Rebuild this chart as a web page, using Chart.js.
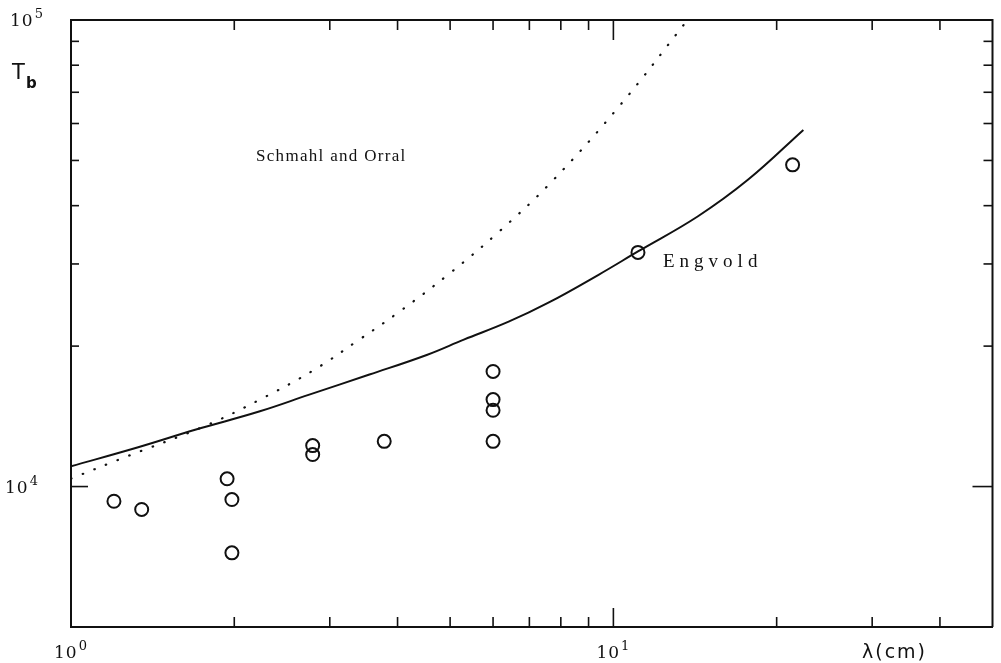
<!DOCTYPE html>
<html>
<head>
<meta charset="utf-8">
<script src="https://cdn.jsdelivr.net/npm/chart.js@4.4.1/dist/chart.umd.min.js"></script>
<style>
  html, body { margin: 0; padding: 0; background: #fff; }
  #wrap { width: 1001px; height: 663px; }
</style>
</head>
<body>
<div id="wrap"><canvas id="grafico" width="1001" height="663"></canvas></div>
<script>
// observed brightness temperatures
const obsLambda = [1.20, 1.35, 1.94, 1.98, 1.98, 2.79, 2.79, 3.78, 6.0, 6.0, 6.0, 6.0, 11.1, 21.4];
const obsTb = [9300, 8930, 10390, 9380, 7210, 12240, 11710, 12500, 17650, 15360, 14570, 12500, 31760, 48930];

// Engvold model (solid)
const engvoldLambda = [1.0, 1.33, 1.70, 2.23, 2.75, 3.55, 4.54, 5.30, 6.41, 7.59, 9.39, 11.1, 14.3, 17.7, 22.4];
const engvoldTb = [11050, 12140, 13250, 14500, 15740, 17380, 19170, 20650, 22560, 24780, 28440, 31910, 37920, 45440, 58130];

// Schmahl and Orral model (dotted)
const schmahlLambda = [1.0, 1.27, 1.76, 2.23, 2.81, 3.40, 4.03, 4.98, 6.15, 7.69, 10.3, 13.7, 14.3];
const schmahlTb = [10400, 11610, 13460, 15360, 17800, 20650, 23700, 28580, 35160, 44990, 65770, 100000, 106600];

// axis ranges and ticks
const xMin = 1, xMax = 50;
const yMin = 5000, yMax = 100000;
const xMajorTicks = [1, 10];
const xMinorTicks = [2, 3, 4, 5, 6, 7, 8, 9, 20, 30, 40];
const yMajorTicks = [10000];
const yMinorTicks = [20000, 30000, 40000, 50000, 60000, 70000, 80000, 90000];

const toPoints = (xs, ys) => xs.map((v, i) => ({ x: v, y: ys[i] }));

// desenha "10" com expoente
function drawPow(ctx, exp, cx, cy) {
    ctx.font = '17px "DejaVu Serif"';
    ctx.letterSpacing = '1px';
    const w1 = ctx.measureText('10').width;
    ctx.font = '13px "DejaVu Serif"';
    const w2 = ctx.measureText(exp).width;
    const left = cx - (w1 + w2 + 1) / 2;
    ctx.font = '17px "DejaVu Serif"';
    ctx.fillText('10', left, cy);
    ctx.font = '13px "DejaVu Serif"';
    ctx.fillText(exp, left + w1 + 1, cy - 8);
    ctx.letterSpacing = '0px';
}

const moldura = {
    id: 'moldura',
    afterDraw(chart) {
        const { ctx, chartArea: a, scales: { x, y } } = chart;
        ctx.save();
        ctx.strokeStyle = '#111';
        ctx.fillStyle = '#111';
        ctx.lineWidth = 2;
        ctx.beginPath();
        ctx.moveTo(a.left, a.top);
        ctx.lineTo(a.right, a.top);
        ctx.lineTo(a.right, a.bottom);
        ctx.stroke();

        const seg = (x1, y1, x2, y2) => {
            ctx.beginPath();
            ctx.moveTo(x1, y1);
            ctx.lineTo(x2, y2);
            ctx.stroke();
        };
        ctx.lineWidth = 1.6;
        xMinorTicks.forEach(v => {
            const px = x.getPixelForValue(v);
            seg(px, a.bottom, px, a.bottom - 10);
            seg(px, a.top, px, a.top + 10);
        });
        xMajorTicks.forEach(v => {
            const px = x.getPixelForValue(v);
            seg(px, a.bottom, px, a.bottom - 19);
            seg(px, a.top, px, a.top + 20);
        });
        yMinorTicks.forEach(v => {
            const py = y.getPixelForValue(v);
            seg(a.left, py, a.left + 8, py);
            seg(a.right, py, a.right - 9, py);
        });
        yMajorTicks.forEach(v => {
            const py = y.getPixelForValue(v);
            seg(a.left, py, a.left + 17, py);
            seg(a.right, py, a.right - 20, py);
        });

        // rótulos dos eixos
        ctx.textBaseline = 'alphabetic';
        ctx.textAlign = 'left';
        drawPow(ctx, '0', x.getPixelForValue(1), 658);
        drawPow(ctx, '1', x.getPixelForValue(10), 658);
        drawPow(ctx, '4', 22, y.getPixelForValue(10000) + 6);
        drawPow(ctx, '5', 27, y.getPixelForValue(100000) + 6);

        ctx.font = '19px "DejaVu Sans"';
        ctx.letterSpacing = '2px';
        ctx.fillText('λ(cm)', 862, 658);
        ctx.letterSpacing = '0px';
        ctx.font = '21px "DejaVu Sans"';
        ctx.fillText('T', 12, 79);
        ctx.font = 'bold 15px "DejaVu Sans"';
        ctx.fillText('b', 26, 88);

        // anotações
        ctx.font = '17px "Liberation Serif"';
        ctx.letterSpacing = '1.3px';
        ctx.fillText('Schmahl and Orral', 256, 161);
        ctx.font = '19px "Liberation Serif"';
        ctx.letterSpacing = '5px';
        ctx.fillText('Engvold', 663, 267);
        ctx.restore();
    }
};

const ctx = document.getElementById('grafico').getContext('2d');
new Chart(ctx, {
    type: 'scatter',
    data: {
        datasets: [
            {
                label: 'Observations',
                data: toPoints(obsLambda, obsTb),
                pointStyle: 'circle',
                pointRadius: 6.5,
                pointBorderWidth: 2,
                pointBorderColor: '#111',
                pointBackgroundColor: 'rgba(0,0,0,0)',
                showLine: false
            },
            {
                label: 'Engvold',
                data: toPoints(engvoldLambda, engvoldTb),
                showLine: true,
                borderColor: '#111',
                borderWidth: 2,
                pointRadius: 0,
                tension: 0.4
            },
            {
                label: 'Schmahl and Orral',
                data: toPoints(schmahlLambda, schmahlTb),
                showLine: true,
                borderColor: '#111',
                borderWidth: 2.2,
                borderDash: [0.5, 12],
                borderCapStyle: 'round',
                pointRadius: 0,
                tension: 0.4
            }
        ]
    },
    options: {
        responsive: false,
        devicePixelRatio: 1,
        animation: false,
        layout: { padding: { left: 71, right: 6, top: 20, bottom: 36 } },
        scales: {
            x: {
                type: 'logarithmic',
                min: xMin,
                max: xMax,
                grid: { display: false, drawTicks: false },
                ticks: { display: false },
                border: { display: true, color: '#111', width: 2 },
                afterFit: s => { s.height = 0; }
            },
            y: {
                type: 'logarithmic',
                min: yMin,
                max: yMax,
                grid: { display: false, drawTicks: false },
                ticks: { display: false },
                border: { display: true, color: '#111', width: 2 },
                afterFit: s => { s.width = 0; }
            }
        },
        plugins: {
            legend: { display: false },
            tooltip: { enabled: false }
        }
    },
    plugins: [moldura]
});
</script>
</body>
</html>
